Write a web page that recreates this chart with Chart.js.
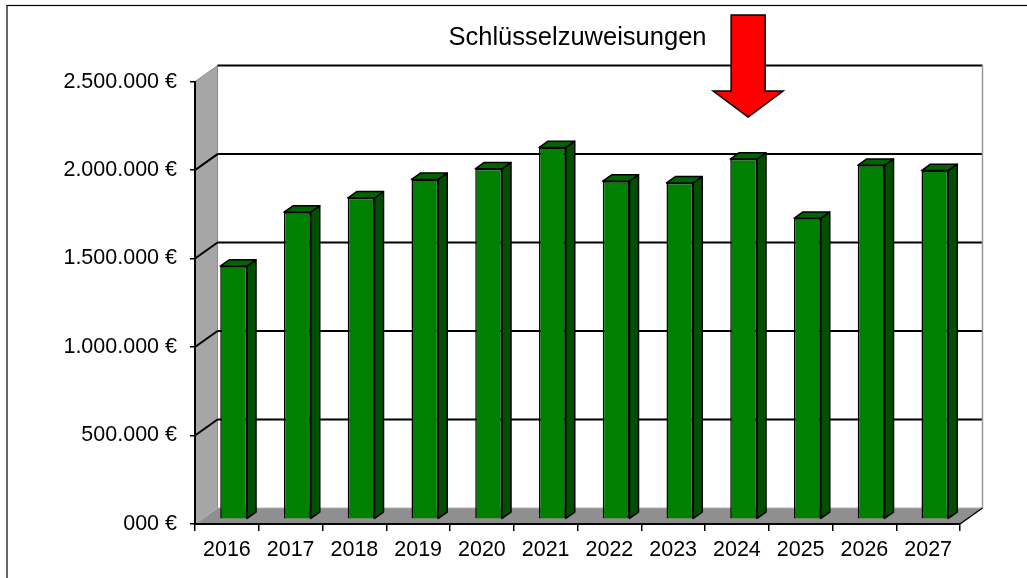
<!DOCTYPE html>
<html>
<head>
<meta charset="utf-8">
<script src="https://cdn.jsdelivr.net/npm/chart.js@4.4.1/dist/chart.umd.min.js"></script>
<style>
html,body{margin:0;padding:0;background:#fff;}
canvas{display:block;}
</style>
</head>
<body>
<canvas id="c" width="1027" height="578"></canvas>
<script>
// ---- data ----
const categories = ['2016','2017','2018','2019','2020','2021','2022','2023','2024','2025','2026','2027'];
const schluesselzuweisungen = [1430000, 1735000, 1815000, 1920000, 1980000, 2100000, 1910000, 1900000, 2035000, 1700000, 2000000, 1970000];
const yTickLabels = ['000 €','500.000 €','1.000.000 €','1.500.000 €','2.000.000 €','2.500.000 €'];
const chartTitle = 'Schlüsselzuweisungen';
const highlightedCategory = '2024';

// ---- 3D look ----
const DX = 22.5, DY = -16;          // full depth of the plot box
const BAR_FRONT = 0.3, BAR_BACK = 0.7; // depth fractions of bars
const FONT = 'Liberation Sans, Arial, sans-serif';

const threeD = {
  id: 'threeD',
  beforeDraw(chart) {
    const ctx = chart.ctx, a = chart.chartArea, y = chart.scales.y;
    const L = a.left, R = a.right, T = a.top, B = a.bottom;
    ctx.save();
    // back wall
    ctx.fillStyle = '#ffffff';
    ctx.fillRect(L + DX, T + DY, R - L, B - T);
    // left wall
    ctx.fillStyle = '#a6a6a6';
    ctx.beginPath();
    ctx.moveTo(L, T); ctx.lineTo(L + DX, T + DY); ctx.lineTo(L + DX, B + DY); ctx.lineTo(L, B);
    ctx.closePath(); ctx.fill();
    ctx.strokeStyle = '#8a8a8a'; ctx.lineWidth = 1;
    ctx.beginPath(); ctx.moveTo(L + DX, T + DY); ctx.lineTo(L + DX, B + DY); ctx.stroke();
    ctx.beginPath(); ctx.moveTo(L, T); ctx.lineTo(L + DX, T + DY); ctx.stroke();
    // gridlines on back wall and left wall
    ctx.strokeStyle = '#000'; ctx.lineWidth = 2;
    y.ticks.forEach(t => {
      if (t.value === 0) return;
      const py = y.getPixelForValue(t.value);
      ctx.beginPath();
      ctx.moveTo(L + DX, py + DY); ctx.lineTo(R + DX, py + DY);
      ctx.stroke();
      if (t.value < y.max) {
        ctx.beginPath();
        ctx.moveTo(L, py); ctx.lineTo(L + DX, py + DY);
        ctx.stroke();
      }
    });
    // right edge of back wall
    ctx.strokeStyle = '#9a9a9a'; ctx.lineWidth = 1.5;
    ctx.beginPath(); ctx.moveTo(R + DX, T + DY); ctx.lineTo(R + DX, B + DY); ctx.stroke();
    // floor
    ctx.fillStyle = '#8f8f8f';
    ctx.beginPath();
    ctx.moveTo(L, B); ctx.lineTo(L + DX, B + DY); ctx.lineTo(R + DX, B + DY); ctx.lineTo(R, B);
    ctx.closePath(); ctx.fill();
    ctx.strokeStyle = '#b0b0b0'; ctx.lineWidth = 1;
    ctx.beginPath(); ctx.moveTo(L, B); ctx.lineTo(L + DX, B + DY); ctx.lineTo(R + DX, B + DY); ctx.stroke();
    ctx.strokeStyle = '#000'; ctx.lineWidth = 1.5;
    ctx.beginPath(); ctx.moveTo(R, B); ctx.lineTo(R + DX, B + DY); ctx.stroke();
    ctx.restore();
  },
  beforeDatasetsDraw(chart) {
    chart.ctx.save();
    chart.ctx.translate(DX * BAR_FRONT, DY * BAR_FRONT);
  },
  afterDatasetsDraw(chart) {
    const ctx = chart.ctx;
    const ddx = DX * (BAR_BACK - BAR_FRONT), ddy = DY * (BAR_BACK - BAR_FRONT);
    chart.getDatasetMeta(0).data.forEach(el => {
      const l = el.x - el.width / 2, r = el.x + el.width / 2, t = el.y, b = el.base;
      ctx.lineWidth = 1.5; ctx.strokeStyle = '#000'; ctx.lineJoin = 'round';
      // side
      ctx.fillStyle = '#005000';
      ctx.beginPath();
      ctx.moveTo(r, t); ctx.lineTo(r + ddx, t + ddy); ctx.lineTo(r + ddx, b + ddy); ctx.lineTo(r, b);
      ctx.closePath(); ctx.fill(); ctx.stroke();
      // top
      ctx.fillStyle = '#006400';
      ctx.beginPath();
      ctx.moveTo(l, t); ctx.lineTo(l + ddx, t + ddy); ctx.lineTo(r + ddx, t + ddy); ctx.lineTo(r, t);
      ctx.closePath(); ctx.fill(); ctx.stroke();
    });
    ctx.restore();
  },
  afterDraw(chart) {
    const ctx = chart.ctx, x = chart.scales.x;
    ctx.save();
    // outer frame
    ctx.strokeStyle = '#000'; ctx.lineWidth = 1.2;
    ctx.strokeRect(7, 5.5, 1200, 1000);
    // arrow pointing at highlighted bar
    const idx = categories.indexOf(highlightedCategory);
    const cx = x.getPixelForValue(idx) + DX * (BAR_FRONT + BAR_BACK) / 2;
    const shaftW = 34, headW = 70, top = 15, shaftBottom = 91, tip = 117;
    ctx.fillStyle = '#ff0000'; ctx.strokeStyle = '#000'; ctx.lineWidth = 1.5; ctx.lineJoin = 'miter';
    ctx.beginPath();
    ctx.moveTo(cx - shaftW / 2, top);
    ctx.lineTo(cx + shaftW / 2, top);
    ctx.lineTo(cx + shaftW / 2, shaftBottom);
    ctx.lineTo(cx + headW / 2, shaftBottom);
    ctx.lineTo(cx, tip);
    ctx.lineTo(cx - headW / 2, shaftBottom);
    ctx.lineTo(cx - shaftW / 2, shaftBottom);
    ctx.closePath(); ctx.fill(); ctx.stroke();
    ctx.restore();
  }
};

new Chart(document.getElementById('c'), {
  type: 'bar',
  data: {
    labels: categories,
    datasets: [{
      label: chartTitle,
      data: schluesselzuweisungen,
      backgroundColor: '#008000',
      borderColor: '#000',
      borderWidth: 1.5,
      barPercentage: 0.42,
      categoryPercentage: 1.0,
      clip: false
    }]
  },
  options: {
    responsive: false,
    animation: false,
    events: [],
    layout: { padding: { top: 4, right: 67, left: 0, bottom: 0 } },
    plugins: {
      legend: { display: false },
      tooltip: { enabled: false },
      title: {
        display: true,
        text: chartTitle,
        fullSize: false,
        color: '#000',
        font: { family: FONT, size: 25.5, weight: 'normal', lineHeight: 1.2 },
        padding: { top: 19, bottom: 28 }
      }
    },
    scales: {
      x: {
        grid: { display: true, drawOnChartArea: false, drawTicks: true, tickLength: 7, color: '#000', lineWidth: 1.5, offset: true },
        border: { display: true, color: '#000', width: 2 },
        ticks: { color: '#000', font: { family: FONT, size: 21.5 }, padding: 6, maxRotation: 0 },
        afterFit: s => { s.height = 54; }
      },
      y: {
        min: 0,
        max: 2500000,
        grid: { display: true, drawOnChartArea: false, drawTicks: true, tickLength: 5, color: '#000', lineWidth: 1.5 },
        border: { display: true, color: '#000', width: 2 },
        ticks: {
          stepSize: 500000,
          color: '#000',
          font: { family: FONT, size: 21.5 },
          padding: 13,
          callback: (v, i) => yTickLabels[i]
        },
        afterFit: s => { s.width = 195; }
      }
    }
  },
  plugins: [threeD]
});
</script>
</body>
</html>
